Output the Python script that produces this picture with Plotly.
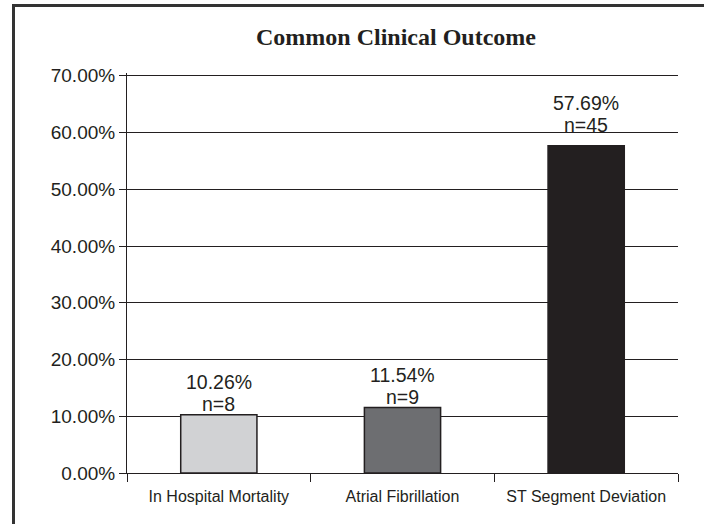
import plotly.graph_objects as go

categories = ["In Hospital Mortality", "Atrial Fibrillation", "ST Segment Deviation"]
percent_values = [10.26, 11.54, 57.69]
counts = [8, 9, 45]
bar_colors = ["#d1d2d4", "#6d6e71", "#231f20"]
label_lift = [0, 0, 10]  # extra pixel lift of data labels (style)
y_tick_values = [0, 10, 20, 30, 40, 50, 60, 70]
y_tick_labels = [f"{v:.2f}%" for v in y_tick_values]

INK = "#231f20"
W, H = 704, 524
L, R, T, B = 127, 26, 73, 51
pw, ph = W - L - R, H - T - B

fig = go.Figure()
fig.add_trace(go.Bar(
    x=categories, y=percent_values,
    marker=dict(color=bar_colors, line=dict(color=INK, width=1.5)),
    width=0.415, showlegend=False, hoverinfo="skip",
))

for c, v, n, lift in zip(categories, percent_values, counts, label_lift):
    fig.add_annotation(x=c, y=v, text=f"{v:.2f}%", showarrow=False,
                       yanchor="bottom", yshift=20 + lift,
                       font=dict(family="Liberation Sans, Arial", size=19.5, color=INK))
    fig.add_annotation(x=c, y=v, text=f"n={n}", showarrow=False,
                       yanchor="bottom", yshift=-2 + lift,
                       font=dict(family="Liberation Sans, Arial", size=19.5, color=INK))

# outer frame (top and left)
fig.add_shape(type="line", xref="paper", yref="paper",
              x0=(12 - L) / pw, x1=(W + 5 - L) / pw,
              y0=(H - B - 5.5) / ph, y1=(H - B - 5.5) / ph,
              line=dict(color="#333333", width=3))
fig.add_shape(type="line", xref="paper", yref="paper",
              x0=(13.5 - L) / pw, x1=(13.5 - L) / pw,
              y0=(H - B - 4) / ph, y1=(H - B - H - 5) / ph,
              line=dict(color="#333333", width=3))

fig.update_layout(
    width=W, height=H,
    margin=dict(l=L, r=R, t=T, b=B, pad=0),
    paper_bgcolor="white", plot_bgcolor="white",
    title=dict(text="<b>Common Clinical Outcome</b>", x=396 / W, xanchor="center",
               y=1 - 37 / H, yanchor="middle",
               font=dict(family="Liberation Serif, Times New Roman", size=24, color=INK)),
    xaxis=dict(
        type="category", tickson="boundaries", ticks="outside", ticklen=8,
        tickcolor=INK, tickwidth=1, showline=True, linecolor=INK, linewidth=1,
        showgrid=False, ticklabelstandoff=9,
        tickfont=dict(family="Liberation Sans, Arial", size=16, color=INK),
    ),
    yaxis=dict(
        range=[0, 70.5], tickvals=y_tick_values, ticktext=y_tick_labels,
        ticks="outside", ticklen=7, tickcolor=INK, tickwidth=1,
        showline=True, linecolor=INK, linewidth=1,
        showgrid=True, gridcolor=INK, gridwidth=1, zeroline=False,
        tickfont=dict(family="Liberation Sans, Arial", size=19, color=INK),
    ),
)

fig.write_html("out.html", config={"displayModeBar": False},
               post_script="document.body.style.margin='0';document.body.style.overflow='hidden';")
